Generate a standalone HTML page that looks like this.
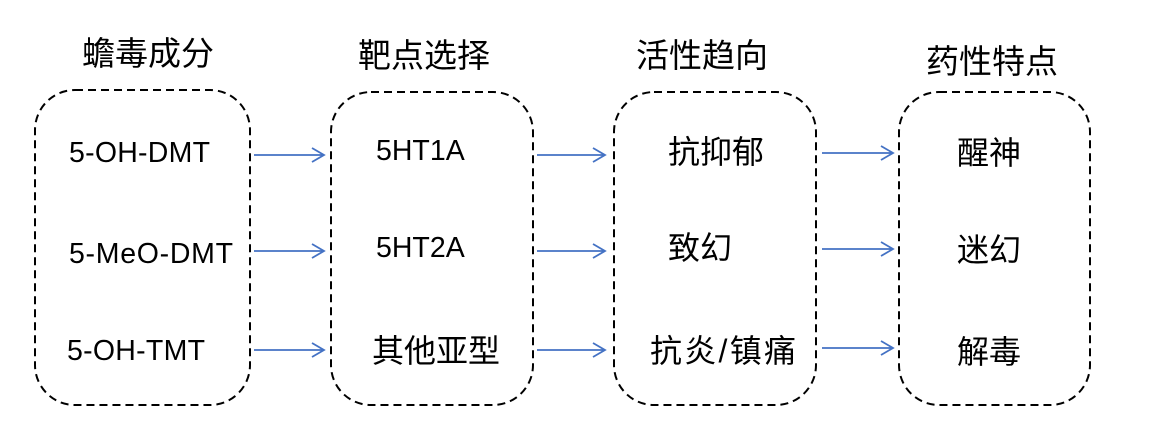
<!DOCTYPE html>
<html><head><meta charset="utf-8"><style>
body{margin:0;background:#fff;width:1152px;height:432px;overflow:hidden}
text{font-family:"Liberation Sans","Noto Sans CJK SC",sans-serif;fill:#000}
</style></head><body>
<svg width="1152" height="432" viewBox="0 0 1152 432">
<g fill="none" stroke="#000" stroke-width="2" stroke-dasharray="8,5">
<rect x="35" y="90" width="215" height="315" rx="40"/>
<rect x="331" y="92" width="202" height="313" rx="40"/>
<rect x="614" y="92" width="202" height="313" rx="40"/>
<rect x="899" y="92" width="191" height="313" rx="40"/>
</g>
<g font-size="33">
<text x="148" y="65" text-anchor="middle">蟾毒成分</text>
<text x="424" y="67" text-anchor="middle">靶点选择</text>
<text x="702" y="67" text-anchor="middle">活性趋向</text>
<text x="992" y="73" text-anchor="middle">药性特点</text>
</g>
<g font-size="28.5">
<text x="69" y="162" textLength="141">5-OH-DMT</text>
<text x="69" y="263" textLength="164">5-MeO-DMT</text>
<text x="67" y="360" textLength="138">5-OH-TMT</text>
<text x="376" y="160">5HT1A</text>
<text x="376" y="257">5HT2A</text>
</g>
<g font-size="32">
<text x="372" y="362">其他亚型</text>
<text x="668" y="163">抗抑郁</text>
<text x="668" y="259">致幻</text>
<text x="650" y="362" textLength="146">抗炎/镇痛</text>
<text x="957" y="164">醒神</text>
<text x="957" y="261">迷幻</text>
<text x="957" y="363">解毒</text>
</g>
<g stroke="#4472C4" stroke-width="1.8" fill="none">
<path d="M254 155H324M312 148L324 155L312 162"/>
<path d="M254 251H324M312 244L324 251L312 258"/>
<path d="M254 350H324M312 343L324 350L312 357"/>
<path d="M537 155H605M593 148L605 155L593 162"/>
<path d="M537 251H605M593 244L605 251L593 258"/>
<path d="M537 350H605M593 343L605 350L593 357"/>
<path d="M822 153H893M881 146L893 153L881 160"/>
<path d="M822 249H893M881 242L893 249L881 256"/>
<path d="M822 348H893M881 341L893 348L881 355"/>
</g>
</svg>
</body></html>
